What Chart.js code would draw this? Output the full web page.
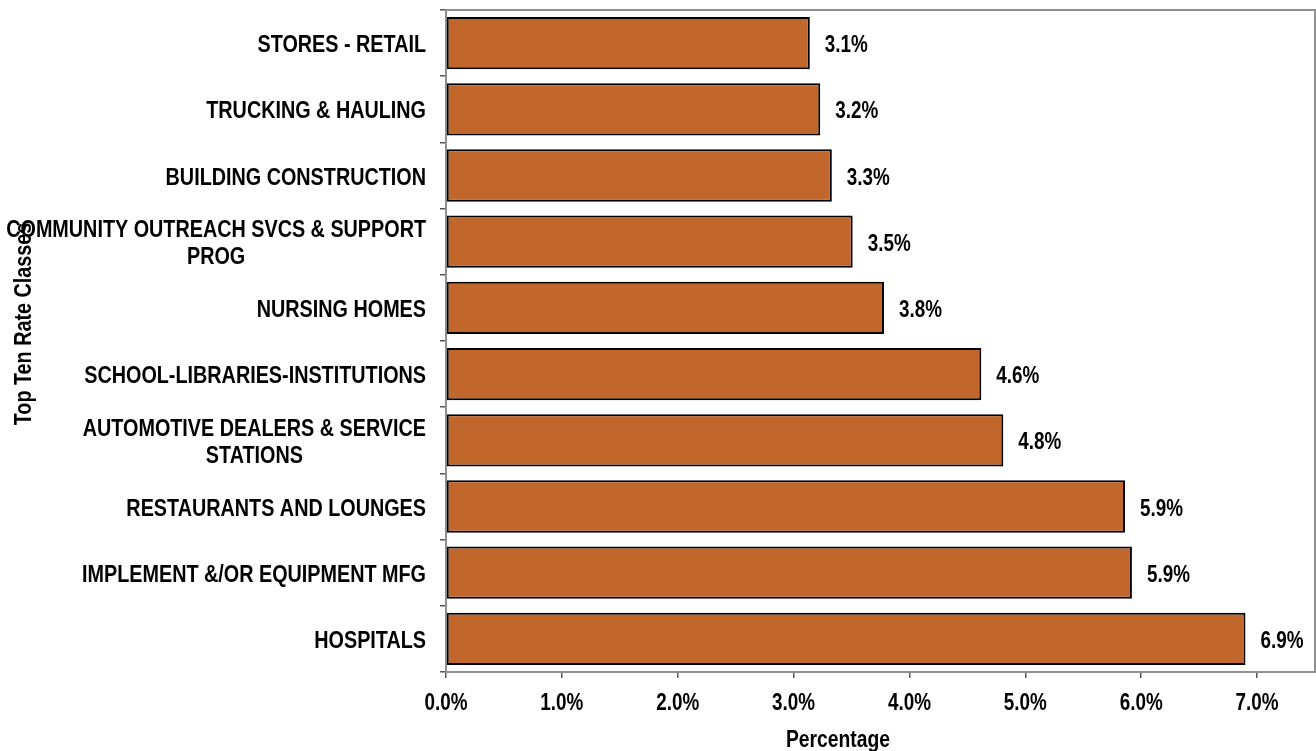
<!DOCTYPE html>
<html>
<head>
<meta charset="utf-8">
<script src="https://cdn.jsdelivr.net/npm/chart.js@4.4.1/dist/chart.umd.min.js"></script>
<style>
  html, body { margin: 0; padding: 0; background: #fff; }
  #wrap { width: 1316px; height: 751px; position: relative; }
</style>
</head>
<body>
<div id="wrap"><canvas id="chart"></canvas></div>
<script>
// top ten rate classes, share of total (%)
const categories = [
  'STORES - RETAIL',
  'TRUCKING & HAULING',
  'BUILDING CONSTRUCTION',
  ['COMMUNITY OUTREACH SVCS & SUPPORT', 'PROG'],
  'NURSING HOMES',
  'SCHOOL-LIBRARIES-INSTITUTIONS',
  ['AUTOMOTIVE DEALERS & SERVICE', 'STATIONS'],
  'RESTAURANTS AND LOUNGES',
  'IMPLEMENT &/OR EQUIPMENT MFG',
  'HOSPITALS'
];
const shares = [3.14, 3.23, 3.33, 3.51, 3.78, 4.62, 4.81, 5.86, 5.92, 6.90];
const tickValues = [0, 1, 2, 3, 4, 5, 6, 7];
const xTitle = 'Percentage';
const yTitle = 'Top Ten Rate Classes';

const FONT = "'Liberation Sans', Arial, sans-serif";

// no narrow face installed, so squeeze bold text horizontally
function narrowText(ctx, text, x, y, size, squeeze, align) {
  ctx.save();
  ctx.font = 'bold ' + size + 'px ' + FONT;
  ctx.textAlign = align;
  ctx.textBaseline = 'alphabetic';
  ctx.translate(x, y);
  ctx.scale(squeeze, 1);
  ctx.fillText(text, 0, 0);
  ctx.restore();
}

function narrowWidth(ctx, text, size, squeeze) {
  ctx.save();
  ctx.font = 'bold ' + size + 'px ' + FONT;
  const w = ctx.measureText(text).width * squeeze;
  ctx.restore();
  return w;
}

// labels, value tags, frame and axis titles
const decorations = {
  id: 'decorations',
  beforeDatasetsDraw(chart) {
    const { ctx, chartArea: a } = chart;
    ctx.save();
    ctx.strokeStyle = '#8f8f8f';
    ctx.lineWidth = 2;
    ctx.strokeRect(a.left, a.top, a.right - a.left, a.bottom - a.top);
    ctx.restore();
  },
  afterDraw(chart) {
    const { ctx, chartArea: a } = chart;
    const xScale = chart.scales.x;
    const yScale = chart.scales.y;
    const meta = chart.getDatasetMeta(0);
    ctx.save();
    ctx.fillStyle = '#000';

    // category names: right-aligned block, lines centred within it
    categories.forEach((label, i) => {
      const lines = Array.isArray(label) ? label : [label];
      const w = Math.max(...lines.map(l => narrowWidth(ctx, l, 23, 0.86)));
      const cx = a.left - 20 - w / 2;
      const yc = yScale.getPixelForValue(i);
      lines.forEach((l, k) => {
        narrowText(ctx, l, cx, yc + 9 + (k - (lines.length - 1) / 2) * 27, 23, 0.86, 'center');
      });
    });

    // value tags at bar ends
    meta.data.forEach((bar, i) => {
      narrowText(ctx, shares[i].toFixed(1) + '%', bar.x + 15, bar.y + 9, 23, 0.82, 'left');
    });

    // x tick labels
    tickValues.forEach(v => {
      narrowText(ctx, v.toFixed(1) + '%', xScale.getPixelForValue(v), 710, 23, 0.82, 'center');
    });

    // axis titles
    narrowText(ctx, xTitle, 838, 747, 23, 0.84, 'center');
    ctx.save();
    ctx.translate(31, 324);
    ctx.rotate(-Math.PI / 2);
    narrowText(ctx, yTitle, 0, 0, 23, 0.86, 'center');
    ctx.restore();

    ctx.restore();
  }
};

new Chart(document.getElementById('chart'), {
  type: 'bar',
  data: {
    labels: categories,
    datasets: [{
      data: shares,
      backgroundColor: '#C2672B',
      borderColor: '#000',
      borderWidth: 2,
      borderSkipped: false,
      barPercentage: 0.79,
      categoryPercentage: 1
    }]
  },
  options: {
    indexAxis: 'y',
    responsive: true,
    maintainAspectRatio: false,
    animation: false,
    layout: { padding: { top: 10, right: 1, left: 0, bottom: 0 } },
    plugins: {
      legend: { display: false },
      tooltip: { enabled: false }
    },
    scales: {
      x: {
        min: 0,
        max: 7.5,
        afterBuildTicks(scale) {
          scale.ticks = tickValues.map(v => ({ value: v }));
        },
        afterFit(scale) { scale.height = 79; },
        border: { display: false },
        grid: {
          drawOnChartArea: false,
          drawTicks: true,
          tickLength: 6,
          color: '#555',
          lineWidth: 1.5
        },
        ticks: { display: false }
      },
      y: {
        afterFit(scale) { scale.width = 446; },
        border: { display: false },
        grid: {
          offset: true,
          drawOnChartArea: false,
          drawTicks: true,
          tickLength: 6,
          color: '#555',
          lineWidth: 1.5
        },
        ticks: { display: false }
      }
    }
  },
  plugins: [decorations]
});
</script>
</body>
</html>
